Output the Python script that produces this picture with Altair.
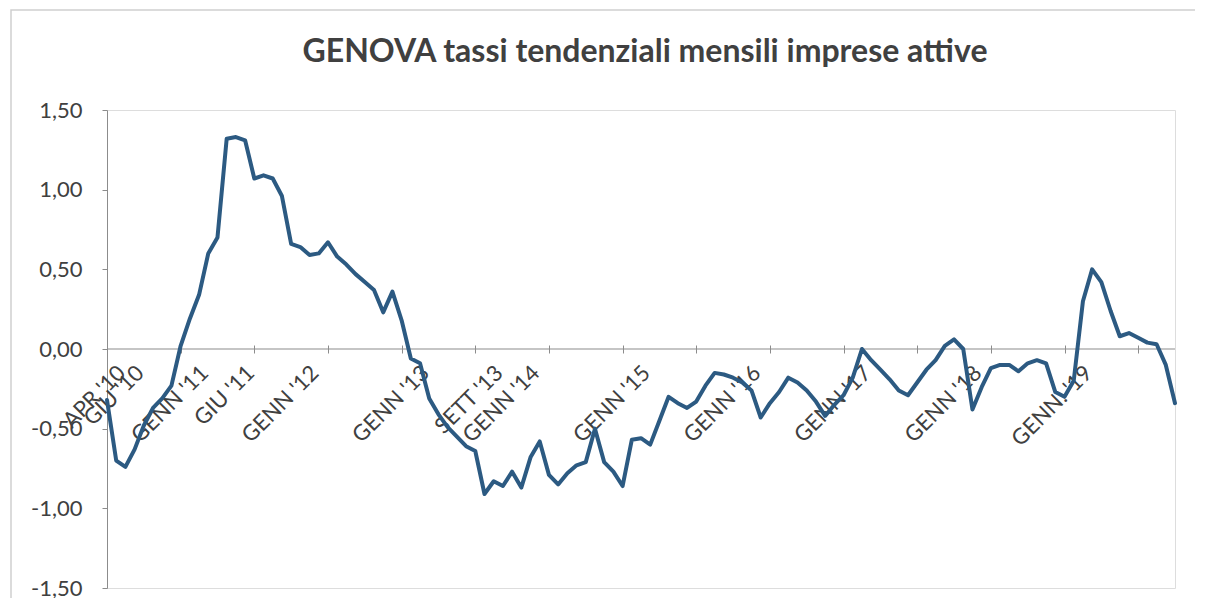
import altair as alt
import pandas as pd

# Monthly values, APR 2010 -> DEC 2019
values = [
    -0.32, -0.70, -0.74, -0.63, -0.48, -0.37, -0.31, -0.23, 0.02, 0.19,
    0.34, 0.60, 0.70, 1.32, 1.33, 1.31, 1.07, 1.09, 1.07, 0.96,
    0.66, 0.64, 0.59, 0.60, 0.67, 0.58, 0.53, 0.47, 0.42, 0.37,
    0.23, 0.36, 0.18, -0.06, -0.09, -0.31, -0.41, -0.49, -0.55, -0.61,
    -0.64, -0.91, -0.83, -0.86, -0.77, -0.87, -0.68, -0.58, -0.79, -0.85,
    -0.78, -0.73, -0.71, -0.50, -0.71, -0.77, -0.86, -0.57, -0.56, -0.60,
    -0.45, -0.30, -0.34, -0.37, -0.33, -0.23, -0.15, -0.16, -0.18, -0.21,
    -0.26, -0.43, -0.34, -0.27, -0.18, -0.21, -0.26, -0.33, -0.42, -0.35,
    -0.29, -0.18, 0.00, -0.07, -0.13, -0.19, -0.26, -0.29, -0.21, -0.13,
    -0.07, 0.02, 0.06, 0.00, -0.38, -0.24, -0.12, -0.10, -0.10, -0.14,
    -0.09, -0.07, -0.09, -0.27, -0.30, -0.20, 0.30, 0.50, 0.42, 0.24,
    0.08, 0.10, 0.07, 0.04, 0.03, -0.10, -0.34,
]

label_idx = [0, 2, 9, 14, 21, 33, 41, 45, 57, 69, 81, 93, 105]
label_text = ["APR '10", "GIU '10", "GENN '11", "GIU '11", "GENN '12", "GENN '13",
              "SETT '13", "GENN '14", "GENN '15", "GENN '16", "GENN '17",
              "GENN '18", "GENN. '19"]
y_ticks = [-1.5, -1.0, -0.5, 0.0, 0.5, 1.0, 1.5]
title_text = "GENOVA tassi tendenziali mensili imprese attive"

months = list(range(len(values)))
df = pd.DataFrame({"m": months, "v": values})
lab_df = pd.DataFrame({"m": label_idx, "t": label_text, "z": [0.0] * len(label_idx)})

W, H = 1068, 478
FONT = "Lato"
GRAY = "#8c8c8c"
TXT = "#404040"

xscale = alt.Scale(domain=[0, len(values) - 1], nice=False, zero=False)
yscale = alt.Scale(domain=[-1.5, 1.5], nice=False, zero=False)

x_enc = alt.X(
    "m:Q", scale=xscale,
    axis=alt.Axis(
        values=months, labels=False, offset=-(H / 2 + 4),
        domain=False, tickSize=8, tickColor=GRAY, title=None, grid=False,
    ),
)
y_enc = alt.Y(
    "v:Q", scale=yscale,
    axis=alt.Axis(
        values=y_ticks,
        labelExpr="replace(replace(format(datum.value, '.2f'), '.', ','), '\u2212', '-')",
        tickSize=5, tickColor=GRAY, domainColor=GRAY, labelPadding=20,
        grid=False, title=None, labelFont=FONT, labelFontSize=22,
        labelColor=TXT,
    ),
)

border = alt.Chart(pd.DataFrame({"a": [0]})).mark_rect(
    fill=None, stroke="#cfcfcf", strokeWidth=1.5
).encode(
    x=alt.value(-96), x2=alt.value(W + 24), y=alt.value(-100), y2=alt.value(H + 120)
)

title = alt.Chart(pd.DataFrame({"t": [title_text]})).mark_text(
    font=FONT, fontSize=32, fontWeight="bold", color=TXT,
    align="center", baseline="middle",
).encode(text="t:N", x=alt.value(W / 2 + 4), y=alt.value(-58))

zero = alt.Chart(pd.DataFrame({"z": [0.0]})).mark_rule(
    color=GRAY, strokeWidth=1.2
).encode(y=alt.Y("z:Q", scale=yscale))

xlabels = alt.Chart(lab_df).mark_text(
    font=FONT, fontSize=22, color=TXT, angle=315,
    align="right", baseline="top", dx=-4, dy=15,
).encode(
    x=alt.X("m:Q", scale=xscale),
    y=alt.Y("z:Q", scale=yscale),
    text="t:N",
)

line = alt.Chart(df).mark_line(
    color="#2c5a82", strokeWidth=4, strokeJoin="round", strokeCap="round"
).encode(x=x_enc, y=y_enc)

chart = alt.layer(border, title, zero, xlabels, line).properties(
    width=W, height=H,
    padding={"left": 99, "top": 102, "right": 20, "bottom": 10},
    autosize=alt.AutoSizeParams(type="none"),
).configure_view(stroke=None).configure(background="white")

chart.save("out.html", embed_options={"renderer": "svg", "actions": False})
